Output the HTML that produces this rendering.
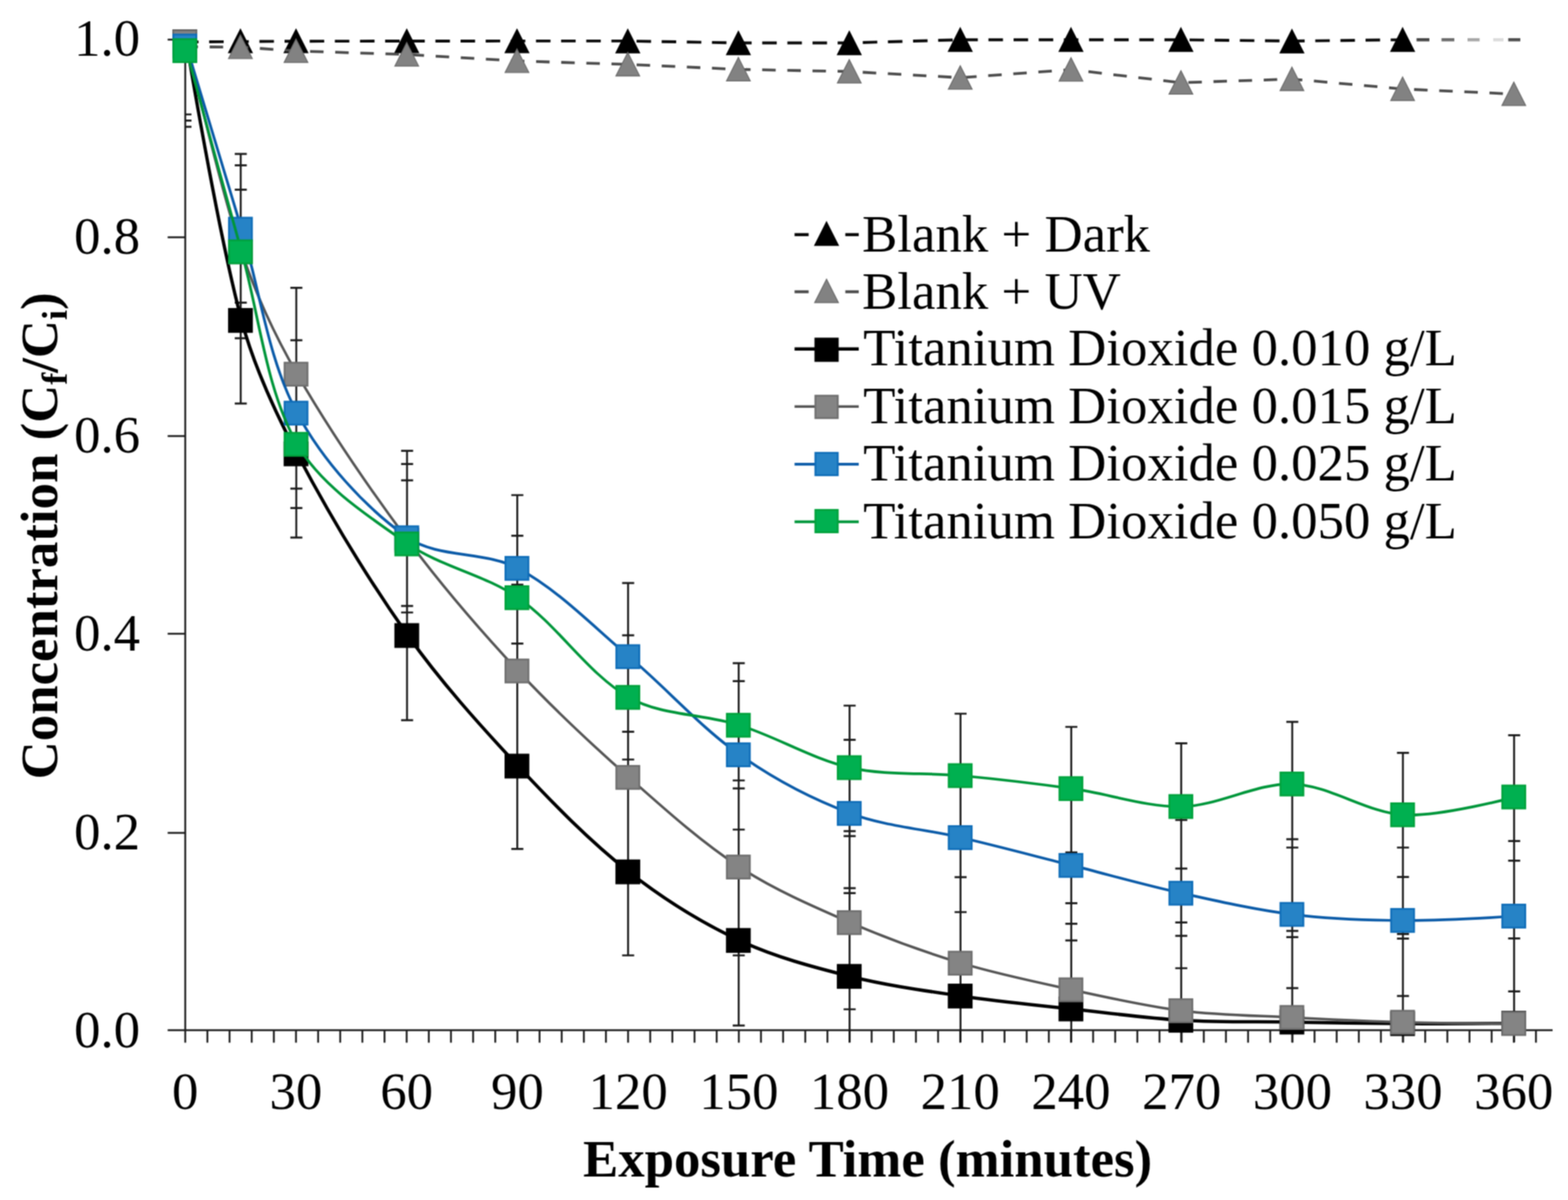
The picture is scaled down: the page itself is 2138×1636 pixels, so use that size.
<!DOCTYPE html>
<html lang="en"><head><meta charset="utf-8"><title>Concentration vs Exposure Time</title>
<style>
html,body{margin:0;padding:0;background:#fff;}
body{width:2138px;height:1636px;overflow:hidden;}
svg{display:block;}
text{font-family:"Liberation Serif","DejaVu Serif",serif;font-size:72px;fill:#000;}
.b{font-weight:bold;}
.ax{stroke:#1c1c1c;stroke-width:2.5;fill:none;}
.eb{stroke:#1a1a1a;stroke-width:2.6;fill:none;}
.cap{stroke:#1a1a1a;stroke-width:2.7;fill:none;}
</style></head><body>
<svg width="2138" height="1636" viewBox="0 0 2138 1636">
<defs><filter id="soft" x="0" y="0" width="100%" height="100%" color-interpolation-filters="sRGB"><feConvolveMatrix order="3" kernelMatrix="1 2 1 2 4 2 1 2 1" edgeMode="duplicate" preserveAlpha="true"/></filter></defs>
<g filter="url(#soft)">
<rect width="2138" height="1636" fill="#fff"/>
<g class="ax">
<path d="M252.6 53V1421.6"/>
<path d="M228.6 1404.6H2117"/>
<path d="M228.6 1135.6H252.6M228.6 863.9H252.6M228.6 594.6H252.6M228.6 323.6H252.6M228.6 54H252.6"/>
<path d="M282.8 1404.6V1421.6M313 1404.6V1421.6M343.2 1404.6V1421.6M373.4 1404.6V1421.6M403.6 1404.6V1421.6M433.8 1404.6V1421.6M463.9 1404.6V1421.6M494.1 1404.6V1421.6M524.3 1404.6V1421.6M554.5 1404.6V1421.6M584.7 1404.6V1421.6M614.9 1404.6V1421.6M645.1 1404.6V1421.6M675.3 1404.6V1421.6M705.5 1404.6V1421.6M735.7 1404.6V1421.6M765.9 1404.6V1421.6M796.1 1404.6V1421.6M826.2 1404.6V1421.6M856.4 1404.6V1421.6M886.6 1404.6V1421.6M916.8 1404.6V1421.6M947 1404.6V1421.6M977.2 1404.6V1421.6M1007.4 1404.6V1421.6M1037.6 1404.6V1421.6M1067.8 1404.6V1421.6M1098 1404.6V1421.6M1128.2 1404.6V1421.6M1158.3 1404.6V1421.6M1188.5 1404.6V1421.6M1218.7 1404.6V1421.6M1248.9 1404.6V1421.6M1279.1 1404.6V1421.6M1309.3 1404.6V1421.6M1339.5 1404.6V1421.6M1369.7 1404.6V1421.6M1399.9 1404.6V1421.6M1430.1 1404.6V1421.6M1460.3 1404.6V1421.6M1490.5 1404.6V1421.6M1520.6 1404.6V1421.6M1550.8 1404.6V1421.6M1581 1404.6V1421.6M1611.2 1404.6V1421.6M1641.4 1404.6V1421.6M1671.6 1404.6V1421.6M1701.8 1404.6V1421.6M1732 1404.6V1421.6M1762.2 1404.6V1421.6M1792.4 1404.6V1421.6M1822.6 1404.6V1421.6M1852.8 1404.6V1421.6M1882.9 1404.6V1421.6M1913.1 1404.6V1421.6M1943.3 1404.6V1421.6M1973.5 1404.6V1421.6M2003.7 1404.6V1421.6M2033.9 1404.6V1421.6M2064.1 1404.6V1421.6M2094.3 1404.6V1421.6"/>
</g>
<g>
<path class="eb" d="M328.2 209.9V550.1M404 392.3V732.9M555 614.6V981.8M705.3 675V1157.3M856.4 794.8V1302.5M1007.2 904.1V1398.1M1158.4 962V1421M1309.7 973V1421M1460.7 991V1421M1610.6 1013.3V1421M1762 984.2V1421M1912.9 1026.4V1421M2064.5 1002.3V1421"/>
<path class="cap" d="M320.1 209.9H336.5M320.1 225.3H336.5M320.1 258.6H336.5M320.1 412.7H336.5M320.1 461.2H336.5M320.1 550.1H336.5M395.9 392.3H412.3M395.9 463.8H412.3M395.9 666.1H412.3M395.9 692.6H412.3M395.9 732.9H412.3M546.9 614.6H563.3M546.9 632.7H563.3M546.9 654.9H563.3M546.9 826.2H563.3M546.9 835H563.3M546.9 981.8H563.3M697.2 675H713.6M697.2 730.4H713.6M697.2 797H713.6M697.2 877.3H713.6M697.2 1157.3H713.6M848.3 794.8H864.7M848.3 866.1H864.7M848.3 997.7H864.7M848.3 1035.5H864.7M848.3 1302.5H864.7M999.1 904.1H1015.5M999.1 928.6H1015.5M999.1 1064H1015.5M999.1 1074.8H1015.5M999.1 1131H1015.5M999.1 1302.5H1015.5M999.1 1398.1H1015.5M1150.3 962H1166.7M1150.3 1008.6H1166.7M1150.3 1133.2H1166.7M1150.3 1139.9H1166.7M1150.3 1210.8H1166.7M1150.3 1217.7H1166.7M1150.3 1376H1166.7M1301.6 973H1318M1301.6 1195.9H1318M1301.6 1243.5H1318M1452.6 991H1469M1452.6 1162.2H1469M1452.6 1231.3H1469M1452.6 1259.3H1469M1452.6 1282.2H1469M1602.5 1013.3H1618.9M1602.5 1117.8H1618.9M1602.5 1184.1H1618.9M1602.5 1257.7H1618.9M1602.5 1275.8H1618.9M1602.5 1320H1618.9M1753.9 984.2H1770.3M1753.9 1144.2H1770.3M1753.9 1155.5H1770.3M1753.9 1269.1H1770.3M1753.9 1277.7H1770.3M1753.9 1347.1H1770.3M1904.8 1026.4H1921.2M1904.8 1155.5H1921.2M1904.8 1195.6H1921.2M1904.8 1273.4H1921.2M1904.8 1279.7H1921.2M1904.8 1357.9H1921.2M2056.4 1002.3H2072.8M2056.4 1146.7H2072.8M2056.4 1173.3H2072.8M2056.4 1279.3H2072.8M2056.4 1351.6H2072.8M252.6 156H261.1M252.6 164.4H261.1M252.6 172.9H261.1"/>
</g>
<g>
<path d="M252.6 57.3L327.8 56.7L403.6 56.2L554.6 56L704.9 55.9L856 55.9L1006.8 58.5L1158 58.5L1309.3 54.2L1460.3 54.2L1610.2 54.2L1761.6 56L1912.5 54.2" fill="none" stroke="#0a0a0a" stroke-width="3.9" stroke-dasharray="19.8 14.48" stroke-dashoffset="1.7"/>
<path d="M1931.5 54.2H1949" stroke="#4a4a4a" stroke-width="4.4" fill="none"/>
<path d="M1965.5 54.2H1983" stroke="#6e6e6e" stroke-width="4.4" fill="none"/>
<path d="M2001 54.2H2017.5" stroke="#a8a8a8" stroke-width="4.4" fill="none"/>
<path d="M2036 54.2H2050" stroke="#dcdcdc" stroke-width="4.4" fill="none"/>
<path d="M2056.5 54.2H2073" stroke="#505050" stroke-width="4.4" fill="none"/>
<path d="M327.8 39.9L344 71.9H311.6Z" fill="#000" stroke="#000" stroke-width="1.3" stroke-linejoin="miter"/>
<path d="M403.6 39.9L419.8 71.9H387.4Z" fill="#000" stroke="#000" stroke-width="1.3" stroke-linejoin="miter"/>
<path d="M554.6 39.9L570.8 71.9H538.4Z" fill="#000" stroke="#000" stroke-width="1.3" stroke-linejoin="miter"/>
<path d="M704.9 39.9L721.1 71.9H688.7Z" fill="#000" stroke="#000" stroke-width="1.3" stroke-linejoin="miter"/>
<path d="M856 40L872.2 72H839.8Z" fill="#000" stroke="#000" stroke-width="1.3" stroke-linejoin="miter"/>
<path d="M1006.8 42.6L1023 74.6H990.6Z" fill="#000" stroke="#000" stroke-width="1.3" stroke-linejoin="miter"/>
<path d="M1158 42.6L1174.2 74.6H1141.8Z" fill="#000" stroke="#000" stroke-width="1.3" stroke-linejoin="miter"/>
<path d="M1309.3 38L1325.5 70H1293.1Z" fill="#000" stroke="#000" stroke-width="1.3" stroke-linejoin="miter"/>
<path d="M1460.3 38L1476.5 70H1444.1Z" fill="#000" stroke="#000" stroke-width="1.3" stroke-linejoin="miter"/>
<path d="M1610.2 38L1626.4 70H1594Z" fill="#000" stroke="#000" stroke-width="1.3" stroke-linejoin="miter"/>
<path d="M1761.6 40.2L1777.8 72.2H1745.4Z" fill="#000" stroke="#000" stroke-width="1.3" stroke-linejoin="miter"/>
<path d="M1912.5 38L1928.7 70H1896.3Z" fill="#000" stroke="#000" stroke-width="1.3" stroke-linejoin="miter"/>
</g>
<g>
<path d="M252.6 63.9L327.8 64.1L403.6 69.5L554.6 74.3L704.9 83.1L856 87.8L1006.8 94.6L1158 97.5L1309.3 105.9L1460.3 94.9L1610.2 112.7L1761.6 107.8L1912.5 121.3L2064.1 128.2" fill="none" stroke="#4d4d4d" stroke-width="3.8" stroke-dasharray="18.4 15.88" stroke-dashoffset="1.0"/>
<path d="M327.8 47.8L344 79.8H311.6Z" fill="#828282" stroke="#6a6a6a" stroke-width="1.3" stroke-linejoin="miter"/>
<path d="M403.6 53.2L419.8 85.2H387.4Z" fill="#828282" stroke="#6a6a6a" stroke-width="1.3" stroke-linejoin="miter"/>
<path d="M554.6 58L570.8 90H538.4Z" fill="#828282" stroke="#6a6a6a" stroke-width="1.3" stroke-linejoin="miter"/>
<path d="M704.9 66.8L721.1 98.8H688.7Z" fill="#828282" stroke="#6a6a6a" stroke-width="1.3" stroke-linejoin="miter"/>
<path d="M856 71.5L872.2 103.5H839.8Z" fill="#828282" stroke="#6a6a6a" stroke-width="1.3" stroke-linejoin="miter"/>
<path d="M1006.8 78.3L1023 110.3H990.6Z" fill="#828282" stroke="#6a6a6a" stroke-width="1.3" stroke-linejoin="miter"/>
<path d="M1158 81.2L1174.2 113.2H1141.8Z" fill="#828282" stroke="#6a6a6a" stroke-width="1.3" stroke-linejoin="miter"/>
<path d="M1309.3 89.6L1325.5 121.6H1293.1Z" fill="#828282" stroke="#6a6a6a" stroke-width="1.3" stroke-linejoin="miter"/>
<path d="M1460.3 78.6L1476.5 110.6H1444.1Z" fill="#828282" stroke="#6a6a6a" stroke-width="1.3" stroke-linejoin="miter"/>
<path d="M1610.2 96.4L1626.4 128.4H1594Z" fill="#828282" stroke="#6a6a6a" stroke-width="1.3" stroke-linejoin="miter"/>
<path d="M1761.6 91.5L1777.8 123.5H1745.4Z" fill="#828282" stroke="#6a6a6a" stroke-width="1.3" stroke-linejoin="miter"/>
<path d="M1912.5 105L1928.7 137H1896.3Z" fill="#828282" stroke="#6a6a6a" stroke-width="1.3" stroke-linejoin="miter"/>
<path d="M2064.1 111.9L2080.3 143.9H2047.9Z" fill="#828282" stroke="#6a6a6a" stroke-width="1.3" stroke-linejoin="miter"/>
</g>
<g>
<path d="M254.2 57C254.2 57 296.4 314 329.4 436.8C346.2 499.3 374.9 561.4 405.2 618.7C449.8 703.1 501.1 788.5 556.2 866.4C600.5 929 654 988.4 706.5 1044.5C753.5 1094.8 803.7 1146.3 857.6 1188.7C903.4 1224.7 955.8 1257.4 1008.4 1282.2C1055.5 1304.4 1108.8 1318.5 1159.6 1331.2C1208.7 1343.5 1260.8 1350.6 1310.9 1358C1360.5 1365.3 1412 1370.1 1461.9 1375.6C1511.3 1381 1562.2 1388.1 1611.8 1391C1661.6 1393.9 1713.2 1392.6 1763.2 1393.4C1813 1394.2 1864.3 1395.3 1914.1 1395.6C1964.1 1395.9 2065.7 1395 2065.7 1395" fill="none" stroke="#000000" stroke-width="4.5" stroke-linejoin="round"/>
<rect x="236.4" y="41.4" width="31.3" height="31.3" fill="#000000" stroke="#000000" stroke-width="2.5"/>
<rect x="312.2" y="421.2" width="31.3" height="31.3" fill="#000000" stroke="#000000" stroke-width="2.5"/>
<rect x="388" y="603.1" width="31.3" height="31.3" fill="#000000" stroke="#000000" stroke-width="2.5"/>
<rect x="539" y="850.8" width="31.3" height="31.3" fill="#000000" stroke="#000000" stroke-width="2.5"/>
<rect x="689.2" y="1028.8" width="31.3" height="31.3" fill="#000000" stroke="#000000" stroke-width="2.5"/>
<rect x="840.4" y="1173" width="31.3" height="31.3" fill="#000000" stroke="#000000" stroke-width="2.5"/>
<rect x="991.1" y="1266.5" width="31.3" height="31.3" fill="#000000" stroke="#000000" stroke-width="2.5"/>
<rect x="1142.3" y="1315.5" width="31.3" height="31.3" fill="#000000" stroke="#000000" stroke-width="2.5"/>
<rect x="1293.6" y="1342.3" width="31.3" height="31.3" fill="#000000" stroke="#000000" stroke-width="2.5"/>
<rect x="1444.6" y="1359.9" width="31.3" height="31.3" fill="#000000" stroke="#000000" stroke-width="2.5"/>
<rect x="1594.5" y="1375.3" width="31.3" height="31.3" fill="#000000" stroke="#000000" stroke-width="2.5"/>
<rect x="1745.9" y="1377.8" width="31.3" height="31.3" fill="#000000" stroke="#000000" stroke-width="2.5"/>
<rect x="1896.8" y="1379.9" width="31.3" height="31.3" fill="#000000" stroke="#000000" stroke-width="2.5"/>
<rect x="2048.4" y="1379.3" width="31.3" height="31.3" fill="#000000" stroke="#000000" stroke-width="2.5"/>
</g>
<g>
<path d="M254.2 57.2C254.2 57.2 298.6 251 329.4 343.3C348.5 400.5 375.1 457.9 405.2 510.1C449.9 587.6 502.7 664.6 556.2 736.5C602.1 798.1 654.1 858.6 706.5 914.8C753.6 965.3 805.9 1014.1 857.6 1059.9C905.5 1102.3 955.1 1147.2 1008.4 1182.1C1054.8 1212.5 1108.5 1235.7 1159.6 1257.9C1208.3 1279 1260.1 1297.8 1310.9 1313.2C1359.9 1328 1411.8 1338.7 1461.9 1349.5C1511.1 1360.1 1561.9 1371.8 1611.8 1378C1661.4 1384.2 1713.2 1384.6 1763.2 1387.2C1813 1389.8 1864.3 1392.3 1914.1 1393.7C1964.1 1395.1 2065.7 1395.5 2065.7 1395.5" fill="none" stroke="#555555" stroke-width="3.5" stroke-linejoin="round"/>
<rect x="236.4" y="41.6" width="31.3" height="31.3" fill="#848484" stroke="#6f6f6f" stroke-width="2.5"/>
<rect x="312.2" y="327.7" width="31.3" height="31.3" fill="#848484" stroke="#6f6f6f" stroke-width="2.5"/>
<rect x="388" y="494.5" width="31.3" height="31.3" fill="#848484" stroke="#6f6f6f" stroke-width="2.5"/>
<rect x="539" y="720.9" width="31.3" height="31.3" fill="#848484" stroke="#6f6f6f" stroke-width="2.5"/>
<rect x="689.2" y="899.1" width="31.3" height="31.3" fill="#848484" stroke="#6f6f6f" stroke-width="2.5"/>
<rect x="840.4" y="1044.2" width="31.3" height="31.3" fill="#848484" stroke="#6f6f6f" stroke-width="2.5"/>
<rect x="991.1" y="1166.4" width="31.3" height="31.3" fill="#848484" stroke="#6f6f6f" stroke-width="2.5"/>
<rect x="1142.3" y="1242.2" width="31.3" height="31.3" fill="#848484" stroke="#6f6f6f" stroke-width="2.5"/>
<rect x="1293.6" y="1297.5" width="31.3" height="31.3" fill="#848484" stroke="#6f6f6f" stroke-width="2.5"/>
<rect x="1444.6" y="1333.8" width="31.3" height="31.3" fill="#848484" stroke="#6f6f6f" stroke-width="2.5"/>
<rect x="1594.5" y="1362.3" width="31.3" height="31.3" fill="#848484" stroke="#6f6f6f" stroke-width="2.5"/>
<rect x="1745.9" y="1371.5" width="31.3" height="31.3" fill="#848484" stroke="#6f6f6f" stroke-width="2.5"/>
<rect x="1896.8" y="1378" width="31.3" height="31.3" fill="#848484" stroke="#6f6f6f" stroke-width="2.5"/>
<rect x="2048.4" y="1379.8" width="31.3" height="31.3" fill="#848484" stroke="#6f6f6f" stroke-width="2.5"/>
</g>
<g>
<path d="M254.2 62.8C254.2 62.8 304.6 230 329.4 312.4C354.4 395.2 365.1 488.9 405.2 563.3C440 627.8 497.2 691.7 556.2 733.1C596.7 761.5 662.1 751 706.5 774.9C761.5 804.5 808.9 854.2 857.6 895.2C908.5 938 954.5 990.8 1008.4 1029C1054.1 1061.4 1107.2 1089.4 1159.6 1109C1207 1126.7 1261.2 1130.3 1310.9 1142C1360.9 1153.7 1412.1 1167.4 1461.9 1179.9C1511.4 1192.4 1562 1206.8 1611.8 1217.8C1661.4 1228.8 1712.8 1240.5 1763.2 1246.7C1812.6 1252.8 1864.3 1254.5 1914.1 1254.9C1964.1 1255.3 2065.7 1249 2065.7 1249" fill="none" stroke="#0b5ba8" stroke-width="3.7" stroke-linejoin="round"/>
<rect x="236.4" y="47.1" width="31.3" height="31.3" fill="#2683c6" stroke="#0f6db8" stroke-width="2.5"/>
<rect x="312.2" y="296.8" width="31.3" height="31.3" fill="#2683c6" stroke="#0f6db8" stroke-width="2.5"/>
<rect x="388" y="547.6" width="31.3" height="31.3" fill="#2683c6" stroke="#0f6db8" stroke-width="2.5"/>
<rect x="539" y="717.5" width="31.3" height="31.3" fill="#2683c6" stroke="#0f6db8" stroke-width="2.5"/>
<rect x="689.2" y="759.2" width="31.3" height="31.3" fill="#2683c6" stroke="#0f6db8" stroke-width="2.5"/>
<rect x="840.4" y="879.6" width="31.3" height="31.3" fill="#2683c6" stroke="#0f6db8" stroke-width="2.5"/>
<rect x="991.1" y="1013.4" width="31.3" height="31.3" fill="#2683c6" stroke="#0f6db8" stroke-width="2.5"/>
<rect x="1142.3" y="1093.3" width="31.3" height="31.3" fill="#2683c6" stroke="#0f6db8" stroke-width="2.5"/>
<rect x="1293.6" y="1126.3" width="31.3" height="31.3" fill="#2683c6" stroke="#0f6db8" stroke-width="2.5"/>
<rect x="1444.6" y="1164.2" width="31.3" height="31.3" fill="#2683c6" stroke="#0f6db8" stroke-width="2.5"/>
<rect x="1594.5" y="1202.1" width="31.3" height="31.3" fill="#2683c6" stroke="#0f6db8" stroke-width="2.5"/>
<rect x="1745.9" y="1231" width="31.3" height="31.3" fill="#2683c6" stroke="#0f6db8" stroke-width="2.5"/>
<rect x="1896.8" y="1239.2" width="31.3" height="31.3" fill="#2683c6" stroke="#0f6db8" stroke-width="2.5"/>
<rect x="2048.4" y="1233.3" width="31.3" height="31.3" fill="#2683c6" stroke="#0f6db8" stroke-width="2.5"/>
</g>
<g>
<path d="M254.2 69C254.2 69 304 253 329.4 343.3C353.8 430.1 362.3 530.3 405.2 605.7C437.1 661.7 501.7 703.6 556.2 741.5C601.1 772.7 661.6 783.7 706.5 814.9C761.1 852.8 801.2 918.3 857.6 950.8C900.8 975.7 959.6 973.2 1008.4 988.7C1059.2 1004.8 1108.1 1034.9 1159.6 1046.6C1207.9 1057.6 1261.1 1052.8 1310.9 1057.5C1360.8 1062.2 1412.2 1068.2 1461.9 1075.2C1511.5 1082.1 1562.5 1100.6 1611.8 1099.6C1661.9 1098.6 1713.7 1067 1763.2 1068.9C1813.4 1070.8 1863.7 1108 1914.1 1110.9C1963.5 1113.8 2065.7 1086.6 2065.7 1086.6" fill="none" stroke="#00963a" stroke-width="3.7" stroke-linejoin="round"/>
<rect x="236.4" y="53.4" width="31.3" height="31.3" fill="#00b050" stroke="#00a23c" stroke-width="2.5"/>
<rect x="312.2" y="327.7" width="31.3" height="31.3" fill="#00b050" stroke="#00a23c" stroke-width="2.5"/>
<rect x="388" y="590.1" width="31.3" height="31.3" fill="#00b050" stroke="#00a23c" stroke-width="2.5"/>
<rect x="539" y="725.9" width="31.3" height="31.3" fill="#00b050" stroke="#00a23c" stroke-width="2.5"/>
<rect x="689.2" y="799.2" width="31.3" height="31.3" fill="#00b050" stroke="#00a23c" stroke-width="2.5"/>
<rect x="840.4" y="935.1" width="31.3" height="31.3" fill="#00b050" stroke="#00a23c" stroke-width="2.5"/>
<rect x="991.1" y="973.1" width="31.3" height="31.3" fill="#00b050" stroke="#00a23c" stroke-width="2.5"/>
<rect x="1142.3" y="1030.9" width="31.3" height="31.3" fill="#00b050" stroke="#00a23c" stroke-width="2.5"/>
<rect x="1293.6" y="1041.8" width="31.3" height="31.3" fill="#00b050" stroke="#00a23c" stroke-width="2.5"/>
<rect x="1444.6" y="1059.5" width="31.3" height="31.3" fill="#00b050" stroke="#00a23c" stroke-width="2.5"/>
<rect x="1594.5" y="1083.9" width="31.3" height="31.3" fill="#00b050" stroke="#00a23c" stroke-width="2.5"/>
<rect x="1745.9" y="1053.2" width="31.3" height="31.3" fill="#00b050" stroke="#00a23c" stroke-width="2.5"/>
<rect x="1896.8" y="1095.2" width="31.3" height="31.3" fill="#00b050" stroke="#00a23c" stroke-width="2.5"/>
<rect x="2048.4" y="1070.9" width="31.3" height="31.3" fill="#00b050" stroke="#00a23c" stroke-width="2.5"/>
</g>
<g>
<path d="M1083.4 319.9H1102.6M1152.6 319.9H1170.9" stroke="#0a0a0a" stroke-width="4.4" fill="none"/>
<path d="M1127 302.5L1143.2 334.5H1110.8Z" fill="#000" stroke="#000" stroke-width="1.3" stroke-linejoin="miter"/>
<text x="1175.6" y="343">Blank + Dark</text>
<path d="M1083.4 397.8H1102.6M1152.6 397.8H1170.9" stroke="#4d4d4d" stroke-width="4" fill="none"/>
<path d="M1127 380.6L1143.2 412.6H1110.8Z" fill="#828282" stroke="#6a6a6a" stroke-width="1.3" stroke-linejoin="miter"/>
<text x="1175.6" y="421">Blank + UV</text>
<path d="M1083.4 475.7H1170.9" stroke="#000000" stroke-width="4.5" fill="none"/>
<rect x="1111.8" y="461.6" width="30.5" height="30.5" fill="#000000" stroke="#000000" stroke-width="2.5"/>
<text x="1177" y="497.7">Titanium Dioxide 0.010 g/L</text>
<path d="M1083.4 554.2H1170.9" stroke="#555555" stroke-width="3.5" fill="none"/>
<rect x="1111.8" y="539.5" width="30.5" height="30.5" fill="#848484" stroke="#6f6f6f" stroke-width="2.5"/>
<text x="1177" y="576.8">Titanium Dioxide 0.015 g/L</text>
<path d="M1083.4 632.8H1170.9" stroke="#0b5ba8" stroke-width="3.7" fill="none"/>
<rect x="1111.8" y="617.4" width="30.5" height="30.5" fill="#2683c6" stroke="#0f6db8" stroke-width="2.5"/>
<text x="1177" y="655.4">Titanium Dioxide 0.025 g/L</text>
<path d="M1083.4 711.3H1170.9" stroke="#00963a" stroke-width="3.7" fill="none"/>
<rect x="1111.8" y="695.2" width="30.5" height="30.5" fill="#00b050" stroke="#00a23c" stroke-width="2.5"/>
<text x="1177" y="733.5">Titanium Dioxide 0.050 g/L</text>
</g>
<g text-anchor="middle">
<text x="252.6" y="1512.3">0</text>
<text x="403.6" y="1512.3">30</text>
<text x="554.5" y="1512.3">60</text>
<text x="705.5" y="1512.3">90</text>
<text x="856.4" y="1512.3">120</text>
<text x="1007.4" y="1512.3">150</text>
<text x="1158.3" y="1512.3">180</text>
<text x="1309.3" y="1512.3">210</text>
<text x="1460.3" y="1512.3">240</text>
<text x="1611.2" y="1512.3">270</text>
<text x="1762.2" y="1512.3">300</text>
<text x="1913.1" y="1512.3">330</text>
<text x="2064.1" y="1512.3">360</text>
</g>
<g text-anchor="end">
<text x="191" y="1428.4">0.0</text>
<text x="191" y="1157.9">0.2</text>
<text x="191" y="887.4">0.4</text>
<text x="191" y="616.9">0.6</text>
<text x="191" y="346.4">0.8</text>
<text x="191" y="75.9">1.0</text>
</g>
<text class="b" text-anchor="middle" x="1183" y="1603.5">Exposure Time (minutes)</text>
<text class="b" text-anchor="middle" transform="translate(77.6 730.5) rotate(-90)">Concentration (C<tspan font-size="49" dy="13">f</tspan><tspan dy="-13">/C</tspan><tspan font-size="49" dy="13">i</tspan><tspan dy="-13">)</tspan></text>
</g>
</svg>
</body></html>
